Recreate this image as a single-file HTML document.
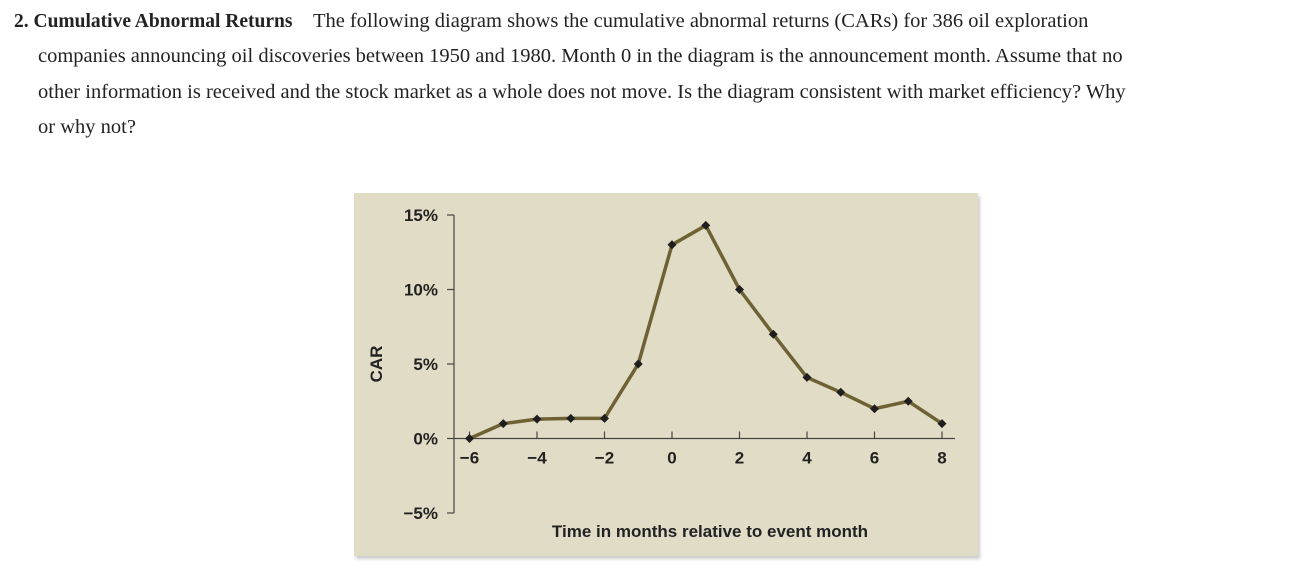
<!DOCTYPE html>
<html><head><meta charset="utf-8"><style>
body{margin:0;width:1312px;height:585px;background:#fff;overflow:hidden;position:relative}
.q{position:absolute;left:14px;top:4px;font-family:"Liberation Serif",serif;font-size:20.5px;line-height:35.3px;color:#222;white-space:nowrap}
.q div.i{padding-left:24px}
.panel{position:absolute;left:354px;top:193px;width:624px;height:363px;background:#e1dcc6;box-shadow:2px 3px 3px #ccc}
svg{position:absolute;left:0;top:0}
text{font-family:"Liberation Sans",sans-serif;font-weight:bold;fill:#222}
</style></head><body>
<div class="q">
<div><b style="font-size:19.5px">2. Cumulative Abnormal Returns</b>&nbsp;&nbsp;&nbsp;&nbsp;The following diagram shows the cumulative abnormal returns (CARs) for 386 oil exploration</div>
<div class="i">companies announcing oil discoveries between 1950 and 1980. Month 0 in the diagram is the announcement month. Assume that no</div>
<div class="i">other information is received and the stock market as a whole does not move. Is the diagram consistent with market efficiency? Why</div>
<div class="i">or why not?</div>
</div>
<div class="panel"></div>
<svg id="chart" width="1312" height="585"></svg>
<script>
const months=[-6,-5,-4,-3,-2,-1,0,1,2,3,4,5,6,7,8];
const car=[0,1,1.3,1.35,1.35,5,13,14.3,10,7,4.1,3.1,2,2.5,1];
const yTicks=[15,10,5,0,-5];
const yLabels=["15%","10%","5%","0%","\u22125%"];
const xTicks=[-6,-4,-2,0,2,4,6,8];
const xLabels=["\u22126","\u22124","\u22122","0","2","4","6","8"];
const NS="http://www.w3.org/2000/svg";
const svg=document.getElementById('chart');
const X=m=>672+(m)*33.75;
const Y=v=>438.5-v*14.9;
function mk(t,a,p){const e=document.createElementNS(NS,t);for(const k in a)e.setAttribute(k,a[k]);(p||svg).appendChild(e);return e;}
const ya=mk('line',{x1:454,y1:Y(15),x2:454,y2:Y(-5),stroke:'#444','stroke-width':1.2});


const xa=mk('line',{x1:454,y1:Y(0),x2:955,y2:Y(0),stroke:'#444','stroke-width':1.2});


yTicks.forEach((v,i)=>{
 mk('line',{x1:447,y1:Y(v),x2:454,y2:Y(v),stroke:'#444','stroke-width':1.2});
 const t=mk('text',{x:438,y:Y(v)+6,'text-anchor':'end','font-size':17});
 t.textContent=yLabels[i];
 
 
});
xTicks.forEach((m,i)=>{
 mk('line',{x1:X(m),y1:Y(0)-7,x2:X(m),y2:Y(0),stroke:'#444','stroke-width':1.2});
 const t=mk('text',{x:X(m),y:Y(0)+25,'text-anchor':'middle','font-size':17});
 t.textContent=xLabels[i];
 
 
});
const yt=mk('text',{x:0,y:0,'text-anchor':'middle','font-size':17,transform:'translate(382,364) rotate(-90)'});
yt.textContent='CAR';


const xt=mk('text',{x:710,y:537,'text-anchor':'middle','font-size':17});
xt.textContent='Time in months relative to event month';


const pl=mk('polyline',{points:months.map((m,i)=>X(m)+','+Y(car[i])).join(' '),fill:'none',stroke:'#6e6235','stroke-width':3.5,'stroke-linejoin':'round'});


months.forEach((m,i)=>{
 const x=X(m),y=Y(car[i]);
 const p=mk('polygon',{points:`${x},${y-4.5} ${x+4.5},${y} ${x},${y+4.5} ${x-4.5},${y}`,fill:'#1e1e1e'});
 
 
});
</script>
</body></html>
